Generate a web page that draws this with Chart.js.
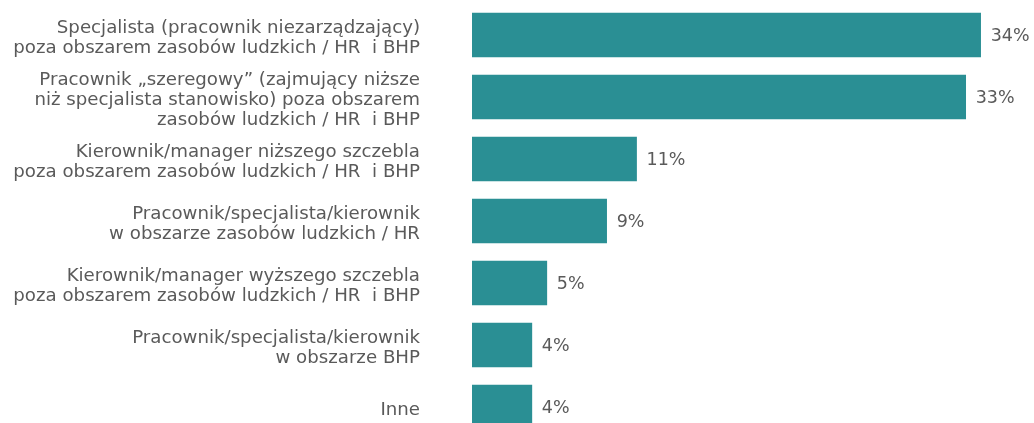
<!DOCTYPE html>
<html>
<head>
<meta charset="utf-8">
<script src="https://cdn.jsdelivr.net/npm/chart.js@4"></script>
<style>
html,body{margin:0;padding:0;background:#fff;overflow:hidden}
</style>
</head>
<body>
<canvas id="barChart" width="1034" height="440"></canvas>
<script>

// kategorie (wiele linii na etykietę)
const categories = [
  ["Specjalista (pracownik niezarządzający)", "poza obszarem zasobów ludzkich / HR  i BHP"],
  ["Pracownik „szeregowy” (zajmujący niższe", "niż specjalista stanowisko) poza obszarem", "zasobów ludzkich / HR  i BHP"],
  ["Kierownik/manager niższego szczebla", "poza obszarem zasobów ludzkich / HR  i BHP"],
  ["Pracownik/specjalista/kierownik", "w obszarze zasobów ludzkich / HR"],
  ["Kierownik/manager wyższego szczebla", "poza obszarem zasobów ludzkich / HR  i BHP"],
  ["Pracownik/specjalista/kierownik", "w obszarze BHP"],
  ["Inne"]
]

const values = [34, 33, 11, 9, 5, 4, 4]

const FONT = "'DejaVu Sans', sans-serif"
const TEXT = "#5a5a5a"

/* etykiety z wartością za słupkiem */
const valueLabels = {
  id: "valueLabels",
  afterDatasetsDraw(chart){
    const ctx = chart.ctx
    const meta = chart.getDatasetMeta(0)
    ctx.save()
    ctx.font = "17.5px " + FONT
    ctx.fillStyle = TEXT
    ctx.textAlign = "left"
    ctx.textBaseline = "middle"
    meta.data.forEach((bar, i) => {
      ctx.fillText(values[i] + "%", bar.x + 10, bar.y + 1)
    })
    ctx.restore()
  }
}

new Chart(document.getElementById("barChart"), {
  type: "bar",
  data: {
    labels: categories,
    datasets: [{
      data: values,
      backgroundColor: "#2a8f94",
      barThickness: 44
    }]
  },
  options: {
    indexAxis: "y",
    responsive: false,
    animation: false,
    layout: { padding: { top: 4, bottom: 2, left: 0, right: 1 } },
    plugins: {
      legend: { display: false },
      tooltip: { enabled: false }
    },
    scales: {
      x: {
        display: false,
        min: 0,
        max: 37.5
      },
      y: {
        afterFit(scale){
          scale.width = 472
          scale.paddingTop = 0
          scale.paddingBottom = 0
        },
        grid: { display: false, drawTicks: false },
        border: { display: false },
        ticks: {
          autoSkip: false,
          padding: 52,
          labelOffset: 3,
          color: TEXT,
          font: { family: FONT, size: 18.2, lineHeight: 1.11 }
        }
      }
    }
  },
  plugins: [valueLabels]
})

</script>
</body>
</html>
